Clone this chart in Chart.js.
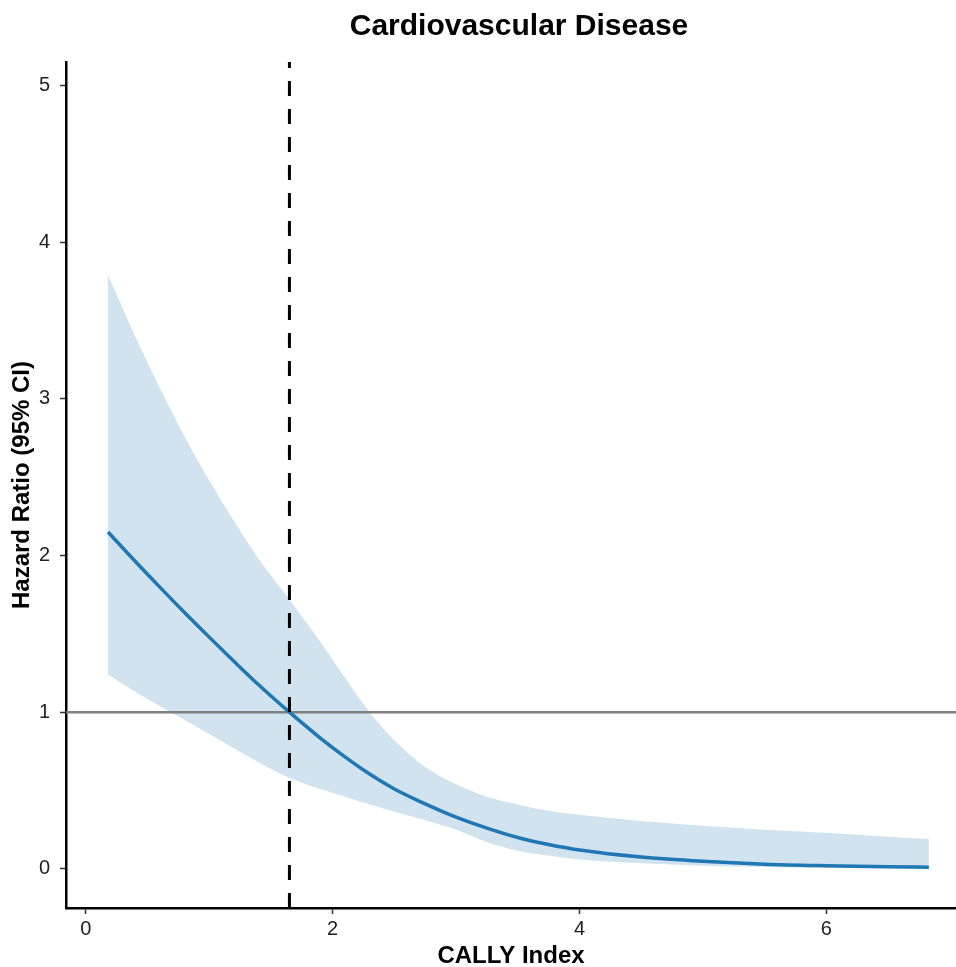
<!DOCTYPE html>
<html>
<head>
<meta charset="utf-8">
<title>Cardiovascular Disease</title>
<script src="https://cdn.jsdelivr.net/npm/chart.js@4/dist/chart.umd.min.js"></script>
<style>
  html, body { margin: 0; padding: 0; background: #fff; }
  #wrap { width: 956px; height: 967px; position: relative; }
</style>
</head>
<body>
<div id="wrap"><canvas id="chart"></canvas></div>
<script>
// ── Data ──────────────────────────────────────────────
const cally   = [0.18, 0.4, 0.6, 0.8, 1.0, 1.2, 1.4, 1.65, 1.9, 2.1, 2.3, 2.5, 2.75, 3.0, 3.25, 3.5, 3.75, 4.0, 4.5, 5.0, 5.5, 6.0, 6.5, 6.83];
const hr      = [2.15, 1.963, 1.798, 1.636, 1.479, 1.325, 1.175, 1.00, 0.835, 0.715, 0.605, 0.51, 0.415, 0.33, 0.26, 0.20, 0.155, 0.12, 0.075, 0.048, 0.03, 0.02, 0.013, 0.01];
const hrUpper = [3.79, 3.40, 3.07, 2.76, 2.48, 2.22, 1.98, 1.72, 1.45, 1.22, 1.00, 0.82, 0.65, 0.54, 0.46, 0.41, 0.37, 0.345, 0.305, 0.275, 0.25, 0.23, 0.205, 0.19];
const hrLower = [1.24, 1.13, 1.04, 0.95, 0.86, 0.77, 0.68, 0.58, 0.51, 0.46, 0.41, 0.365, 0.31, 0.25, 0.17, 0.115, 0.085, 0.06, 0.035, 0.02, 0.012, 0.006, 0.003, 0.0];

const xTicks = [0, 2, 4, 6];
const yTicks = [0, 1, 2, 3, 4, 5];
const xRange = [-0.16, 7.05];
const yRange = [-0.25, 5.15];
const refHR  = 1;     // reference line
const cutoff = 1.65;  // optimal cut-off of CALLY

const pts = ys => cally.map((x, i) => ({ x, y: ys[i] }));

const FONT = '"Liberation Sans", Arial, sans-serif';

// title centred over plot area (ggplot style)
const plotTitle = {
  id: 'plotTitle',
  afterDraw(chart) {
    const { ctx, chartArea } = chart;
    ctx.save();
    ctx.font = 'bold 30px ' + FONT;
    ctx.fillStyle = '#000';
    ctx.textAlign = 'center';
    ctx.textBaseline = 'middle';
    ctx.fillText('Cardiovascular Disease', (chartArea.left + chartArea.right) / 2 + 8, 27);
    ctx.restore();
  }
};

new Chart(document.getElementById('chart'), {
  type: 'line',
  data: {
    datasets: [
      { // lower CI bound
        data: pts(hrLower), borderWidth: 0, pointRadius: 0, fill: false,
        cubicInterpolationMode: 'monotone', order: 6,
      },
      { // upper CI bound, filled down to lower
        data: pts(hrUpper), borderWidth: 0, pointRadius: 0, fill: '-1',
        backgroundColor: 'rgb(210,227,240)',
        cubicInterpolationMode: 'monotone', order: 5,
      },
      { // HR = 1 reference
        data: xRange.map(x => ({ x, y: refHR })),
        borderColor: '#808080', borderWidth: 2.5, pointRadius: 0, fill: false, order: 3,
      },
      { // fitted curve
        data: pts(hr), borderColor: '#1f77b4', borderWidth: 3.5, pointRadius: 0,
        fill: false, cubicInterpolationMode: 'monotone', order: 2,
      },
      { // cut-off
        data: yRange.map(y => ({ x: cutoff, y })),
        borderColor: '#000', borderWidth: 3, borderDash: [15, 13], pointRadius: 0,
        fill: false, order: 1,
      },
    ],
  },
  options: {
    responsive: true,
    maintainAspectRatio: false,
    animation: false,
    layout: { padding: { top: 62, right: 0, left: 0, bottom: 0 } },
    plugins: { legend: { display: false }, tooltip: { enabled: false }, title: { display: false } },
    scales: {
      x: {
        type: 'linear', min: xRange[0], max: xRange[1],
        afterBuildTicks: s => { s.ticks = xTicks.map(v => ({ value: v })); },
        afterFit: s => { s.height = 59; },
        ticks: { color: '#222', font: { family: FONT, size: 20 }, padding: 3, maxRotation: 0 },
        grid: { display: true, drawOnChartArea: false, tickLength: 6, tickColor: '#333', tickWidth: 1.5 },
        border: { display: true, color: '#000', width: 2.5 },
        title: { display: true, text: 'CALLY Index', color: '#000',
                 font: { family: FONT, size: 24, weight: 'bold', lineHeight: 0.85 }, padding: { top: 0, bottom: 0 } },
      },
      y: {
        type: 'linear', min: yRange[0], max: yRange[1],
        afterBuildTicks: s => { s.ticks = yTicks.map(v => ({ value: v })); },
        afterFit: s => { s.width = 66; },
        ticks: { color: '#222', font: { family: FONT, size: 20 }, padding: 10 },
        grid: { display: true, drawOnChartArea: false, tickLength: 6, tickColor: '#333', tickWidth: 1.5 },
        border: { display: true, color: '#000', width: 2.5 },
        title: { display: true, text: 'Hazard Ratio (95% CI)', color: '#000',
                 font: { family: FONT, size: 24, weight: 'bold', lineHeight: 1.2 }, padding: { top: 8, bottom: 0 } },
      },
    },
  },
  plugins: [plotTitle],
});
</script>
</body>
</html>
